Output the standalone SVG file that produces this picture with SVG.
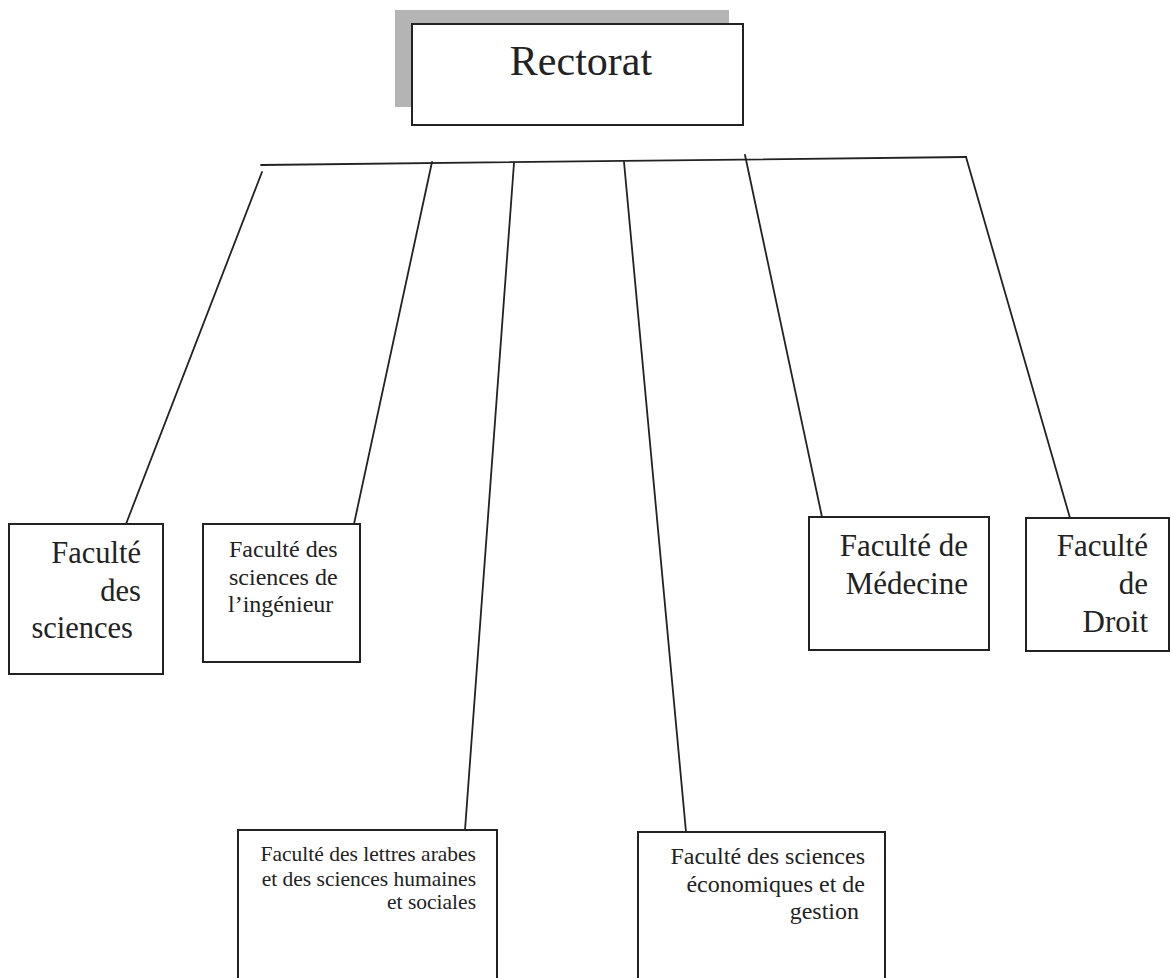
<svg xmlns="http://www.w3.org/2000/svg" width="1173" height="978" viewBox="0 0 1173 978">
<style>
.box{fill:#fff;stroke:#222;stroke-width:2}
.ln{stroke:#222;stroke-width:1.8;fill:none;stroke-linecap:round}
.t{font-family:"Liberation Serif","Times New Roman",serif;fill:#222}
.r{text-anchor:end}
</style>
<rect width="1173" height="978" fill="#fff"/>
<g id="connectors">
<line class="ln" x1="261" y1="165" x2="966" y2="157"/>
<line class="ln" x1="262" y1="172" x2="126" y2="524"/>
<line class="ln" x1="432" y1="162" x2="354" y2="524"/>
<line class="ln" x1="514" y1="163" x2="465" y2="830"/>
<line class="ln" x1="624" y1="162" x2="686" y2="832"/>
<line class="ln" x1="745" y1="155" x2="822" y2="517"/>
<line class="ln" x1="966" y1="157" x2="1070" y2="518"/>
</g>
<g id="rectorat">
<rect x="395" y="10" width="334" height="97" fill="#b4b4b4"/>
<rect class="box" x="412" y="24" width="331" height="101"/>
<text class="t" x="581" y="75" font-size="42" text-anchor="middle">Rectorat</text>
</g>
<g id="fac-sciences">
<rect class="box" x="9" y="524" width="154" height="150"/>
<text class="t r" font-size="30.5"><tspan x="141" y="563">Faculté</tspan><tspan x="141" y="601">des</tspan><tspan x="133" y="638">sciences</tspan></text>
</g>
<g id="fac-ingenieur">
<rect class="box" x="203" y="524" width="157" height="138"/>
<text class="t" font-size="24"><tspan x="229" y="557">Faculté des</tspan><tspan x="229" y="585">sciences de</tspan><tspan x="228" y="612">l’ingénieur</tspan></text>
</g>
<g id="fac-lettres">
<rect class="box" x="238" y="830" width="259" height="160"/>
<text class="t r" font-size="21.5"><tspan x="476" y="861">Faculté des lettres arabes</tspan><tspan x="476" y="886">et des sciences humaines</tspan><tspan x="476" y="909">et sociales</tspan></text>
</g>
<g id="fac-economiques">
<rect class="box" x="638" y="832" width="247" height="160"/>
<text class="t r" font-size="24"><tspan x="865" y="864">Faculté des sciences</tspan><tspan x="865" y="892">économiques et de</tspan><tspan x="859" y="919">gestion</tspan></text>
</g>
<g id="fac-medecine">
<rect class="box" x="809" y="517" width="180" height="133"/>
<text class="t r" font-size="31"><tspan x="968" y="556">Faculté de</tspan><tspan x="968" y="594">Médecine</tspan></text>
</g>
<g id="fac-droit">
<rect class="box" x="1026" y="518" width="143" height="133"/>
<text class="t r" font-size="31"><tspan x="1148" y="556">Faculté</tspan><tspan x="1148" y="594">de</tspan><tspan x="1148" y="632">Droit</tspan></text>
</g>
</svg>
